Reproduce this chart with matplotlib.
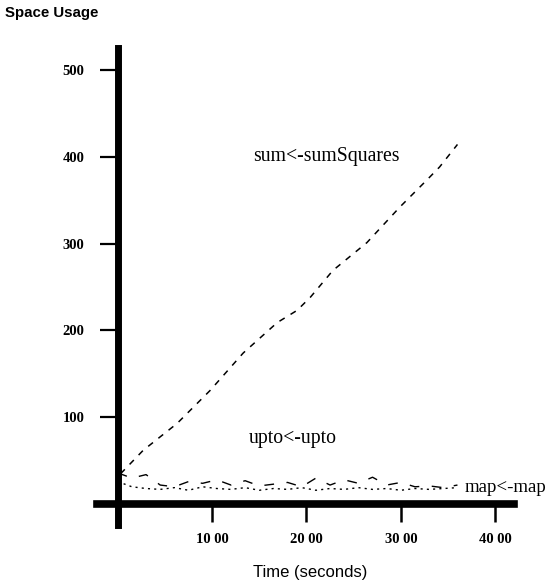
import matplotlib
matplotlib.use("Agg")
import matplotlib.pyplot as plt

# sum<-sumSquares (dashed)
sum_t = [30, 270, 630, 980, 1330, 1690, 1900, 2040, 2280, 2640, 2990, 3275, 3410, 3600]
sum_space = [35, 62, 93, 131, 174, 209, 223, 238, 269, 301, 342, 373, 388, 414]

# upto<-upto (long dashes) and map<-map (dotted), sampled every 150
small_t = [0, 150, 300, 450, 600, 750, 900, 1050, 1200, 1350, 1500, 1650, 1800,
           1950, 2100, 2250, 2400, 2550, 2700, 2850, 3000, 3150, 3300, 3450, 3600]
upto_space = [36, 30, 34, 22, 20, 26, 24, 28, 22, 27, 21, 23, 25,
              20, 30, 22, 28, 24, 31, 22, 25, 20, 21, 19, 22]
map_space = [26, 20, 18, 17, 19, 16, 20, 18, 17, 19, 16, 18, 17,
             19, 16, 18, 17, 19, 17, 18, 16, 18, 17, 18, 19]

yticks = [100, 200, 300, 400, 500]
xticks = [1000, 2000, 3000, 4000]
xtick_labels = ["10 00", "20 00", "30 00", "40 00"]

serif = ["Liberation Serif", "DejaVu Serif"]
sans = ["Liberation Sans", "DejaVu Sans"]

fig = plt.figure(figsize=(5.51, 5.87), dpi=100)
ax = fig.add_axes([0.176, 0.1056, 0.757, 0.8126])

ax.plot(sum_t, sum_space, color="black", lw=1.1, linestyle=(0, (4, 4.5)))
ax.plot(small_t, upto_space, color="black", lw=1.0, linestyle=(0, (7, 9)))
ax.plot(small_t, map_space, color="black", lw=1.0, linestyle=(0, (1.5, 3)))

ax.set_xlim(-220, 4200)
ax.set_ylim(-24, 525)

for side in ["top", "right"]:
    ax.spines[side].set_visible(False)
ax.spines["left"].set_position(("data", 0))
ax.spines["bottom"].set_position(("data", 0))
ax.spines["left"].set_linewidth(5)
ax.spines["bottom"].set_linewidth(5.5)

ax.set_yticks(yticks)
ax.set_yticklabels([str(v) for v in yticks], fontfamily=serif, fontweight="bold", fontsize=10.5)
ax.set_xticks(xticks)
ax.set_xticklabels(xtick_labels, fontfamily=serif, fontweight="bold", fontsize=10.5)
ax.tick_params(axis="y", direction="out", length=13, width=1.6, pad=11)
ax.tick_params(axis="x", direction="out", length=13, width=1.8, pad=8)

ax.text(1434, 400, "sum<-sumSquares", fontfamily=serif, fontsize=14.2, ha="left", va="center")
ax.text(1392, 76, "upto<-upto", fontfamily=serif, fontsize=14.2, ha="left", va="center")
ax.text(3680, 19.6, "map<-map", fontfamily=serif, fontsize=13.6, ha="left", va="center")

fig.text(5 / 551, 1 - 13 / 587, "Space Usage", fontfamily=sans, fontweight="bold",
         fontsize=10.8, ha="left", va="center")
fig.text(310 / 551, 1 - 573 / 587, "Time (seconds)", fontfamily=sans,
         fontsize=12, ha="center", va="center")

fig.savefig("out.png", dpi=100)
